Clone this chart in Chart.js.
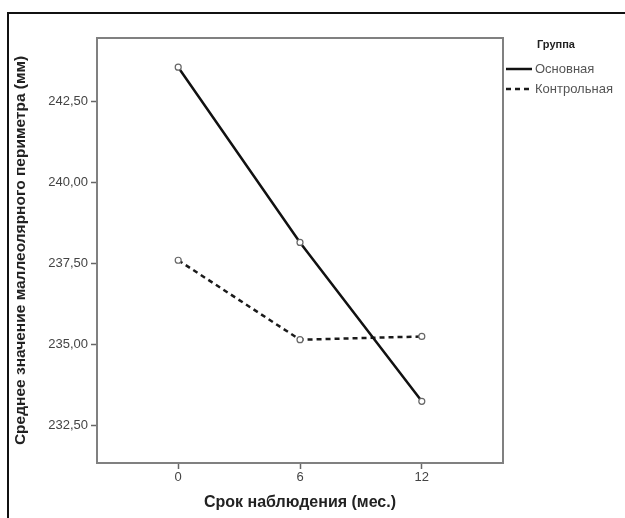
<!DOCTYPE html>
<html>
<head>
<meta charset="utf-8">
<script src="https://cdn.jsdelivr.net/npm/chart.js@4/dist/chart.umd.min.js"></script>
<style>
    html,body{margin:0;padding:0;background:#fff;overflow:hidden;}
    #wrap{position:relative;width:625px;height:518px;}
    #frame{position:absolute;left:7px;top:12px;width:640px;height:540px;border-left:2px solid #111;border-top:2px solid #111;}
    #chart{position:absolute;left:0;top:0;}
</style>
</head>
<body>
<div id="wrap">
    <div id="frame"></div>
    <canvas id="chart" width="625" height="518"></canvas>
</div>
<script>
// ===== DATA =====
const months = [0, 6, 12];
const mainValues = [243.55, 238.15, 233.25];
const controlValues = [237.6, 235.15, 235.25];
const seriesNames = ["Основная", "Контрольная"];
const yTicks = [232.5, 235, 237.5, 240, 242.5];
const xTicks = [0, 6, 12];
const legendTitle = "Группа";
const xTitle = "Срок наблюдения (мес.)";
const yTitle = "Среднее значение маллеолярного периметра (мм)";

const FONT = "'Liberation Sans', Arial, sans-serif";

function toPoints(values){
    return months.map((m,i)=>({x:m,y:values[i]}));
}

// box around the plot area
const boxPlugin = {
    id:"box",
    beforeDatasetsDraw(chart){
        const a = chart.chartArea, c = chart.ctx;
        c.save();
        c.strokeStyle = "#808080";
        c.lineWidth = 2;
        c.strokeRect(a.left, a.top, a.right-a.left, a.bottom-a.top);
        c.restore();
    }
};

// legend on the right, drawn by hand
const legendPlugin = {
    id:"sideLegend",
    afterDraw(chart){
        const c = chart.ctx;
        c.save();
        c.textBaseline = "middle";
        c.fillStyle = "#222";
        c.font = "bold 11px " + FONT;
        c.fillText(legendTitle, 537, 45);
        chart.data.datasets.forEach((ds,i)=>{
            const y = 69 + i*20;
            c.strokeStyle = ds.borderColor;
            c.lineWidth = ds.borderWidth;
            c.setLineDash(ds.borderDash || []);
            c.beginPath();
            c.moveTo(506, y);
            c.lineTo(532, y);
            c.stroke();
            c.setLineDash([]);
            c.fillStyle = "#555";
            c.font = "13px " + FONT;
            c.fillText(ds.label, 535, y);
        });
        c.restore();
    }
};

const chart = new Chart(document.getElementById("chart"),{
    type:"line",
    data:{
        datasets:[
            {
                label:seriesNames[0],
                data:toPoints(mainValues),
                borderColor:"#111",
                borderWidth:2.5,
                pointRadius:3,
                pointBackgroundColor:"#fff",
                pointBorderColor:"#666",
                pointBorderWidth:1.2
            },
            {
                label:seriesNames[1],
                data:toPoints(controlValues),
                borderColor:"#1a1a1a",
                borderWidth:2.5,
                borderDash:[5,4],
                pointRadius:3,
                pointBackgroundColor:"#fff",
                pointBorderColor:"#666",
                pointBorderWidth:1.2
            }
        ]
    },
    options:{
        responsive:false,
        animation:false,
        devicePixelRatio:1,
        layout:{padding:{left:11,top:38,right:122,bottom:6}},
        plugins:{legend:{display:false},tooltip:{enabled:false}},
        scales:{
            x:{
                type:"linear",
                min:-4,
                max:16,
                afterBuildTicks(scale){
                    scale.ticks = xTicks.map(v=>({value:v}));
                },
                afterFit(scale){ scale.height = 49; },
                grid:{drawOnChartArea:false,drawTicks:true,tickLength:6,tickColor:"#666",tickWidth:1.5},
                border:{display:false},
                ticks:{
                    padding:1,
                    color:"#444",
                    font:{family:FONT,size:13},
                    maxRotation:0,
                    callback:v=>String(v)
                },
                title:{
                    display:true,
                    text:xTitle,
                    color:"#222",
                    font:{family:FONT,size:16,weight:"bold"},
                    padding:{top:0,bottom:0}
                }
            },
            y:{
                min:231.35,
                max:244.45,
                afterBuildTicks(scale){
                    scale.ticks = yTicks.map(v=>({value:v}));
                },
                afterFit(scale){ scale.width = 86; },
                grid:{drawOnChartArea:false,drawTicks:true,tickLength:6,tickColor:"#666",tickWidth:1.5},
                border:{display:false},
                ticks:{
                    padding:3,
                    color:"#444",
                    font:{family:FONT,size:13},
                    callback:v=>v.toFixed(2).replace(".",",")
                },
                title:{
                    display:true,
                    text:yTitle,
                    color:"#222",
                    font:{family:FONT,size:15.5,weight:"bold"},
                    padding:{top:0,bottom:0}
                }
            }
        }
    },
    plugins:[boxPlugin,legendPlugin]
});
</script>
</body>
</html>
